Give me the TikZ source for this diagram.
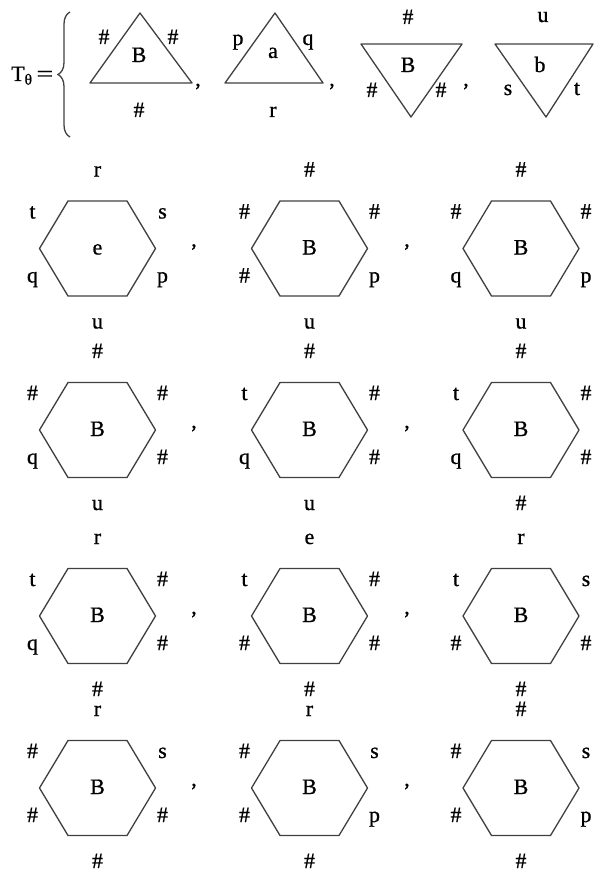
\documentclass[tikz,border=0pt]{standalone}
\usepackage{fontspec}
\usepackage{graphicx}
\setmainfont{Liberation Serif}[FakeBold=0.8]
\usetikzlibrary{decorations.pathreplacing}
\tikzstyle{edge} = [line width=1.3pt, draw=black!75, line join=round]
\tikzstyle{lab} = [inner sep=0pt, anchor=base, font=\fontsize{22}{26}\selectfont]
\tikzstyle{bracket} = [line width=1.3pt, draw=black!75, decorate,
decoration={brace, amplitude=12pt}]

% one hexagon: name, centre, top, upper left, upper right, lower left, lower right, bottom, inside
\newcommand{\hexcell}[9]{%
  \begin{scope}[shift={(#2)}]
    \draw [edge] (-29.5,-47.5) -- (29.5,-47.5) -- (58,0) -- (29.5,47.5)
    -- (-29.5,47.5) -- (-58,0) -- cycle;
    \node (#1) [lab] at (0,6) {#9};
    \node (#1n) [lab] at (0,-72) {#3};
    \node (#1nw) [lab] at (-65,-30) {#4};
    \node (#1ne) [lab] at (65,-30) {#5};
    \node (#1sw) [lab] at (-65,34) {#6};
    \node (#1se) [lab] at (65,34) {#7};
    \node (#1s) [lab] at (0,80) {#8};
  \end{scope}}

\begin{document}
\begin{tikzpicture}[x=1pt, y=-1pt]
              \useasboundingbox (0,0) rectangle (594,872);
              \node (teq) [lab, anchor=base west] at (11,81) {T\textsubscript{θ}\hspace{4pt}\scalebox{1.35}[1]{=}};
              \draw [bracket] (70,137) -- (70,12);

              \draw [edge] (140,13) -- (192,83) -- (90,83) -- cycle;
              \node (tri1) [lab] at (139,62) {B};
              \node (tri1l) [lab] at (104,44) {\#};
              \node (tri1r) [lab] at (173,44) {\#};
              \node (tri1b) [lab] at (139,117) {\#};
              \node (cm1) [lab] at (198,86) {,};

              \draw [edge] (275,13) -- (323,83) -- (225,83) -- cycle;
              \node (tri2) [lab] at (273,58) {a};
              \node (tri2l) [lab] at (238,45) {p};
              \node (tri2r) [lab] at (308,45) {q};
              \node (tri2b) [lab] at (273,117) {r};
              \node (cm2) [lab] at (332,86) {,};

              \draw [edge] (361,44) -- (462,44) -- (411,117) -- cycle;
              \node (tri3) [lab] at (408,72) {B};
              \node (tri3t) [lab] at (408,24) {\#};
              \node (tri3l) [lab] at (372,97) {\#};
              \node (tri3r) [lab] at (441,97) {\#};
              \node (cm3) [lab] at (466,86) {,};

              \draw [edge] (495,44) -- (593,44) -- (546,117) -- cycle;
              \node (tri4) [lab] at (540,72) {b};
              \node (tri4t) [lab] at (543,22) {u};
              \node (tri4l) [lab] at (508,95) {s};
              \node (tri4r) [lab] at (577,95) {t};

              \hexcell{h11}{97.5,248.5}{r}{t}{s}{q}{p}{u}{e}
              \hexcell{h12}{309.5,248.5}{\#}{\#}{\#}{\#}{p}{u}{B}
              \hexcell{h13}{521,248.5}{\#}{\#}{\#}{q}{p}{u}{B}
              \hexcell{h21}{97.5,430}{\#}{\#}{\#}{q}{\#}{u}{B}
              \hexcell{h22}{309.5,430}{\#}{t}{\#}{q}{\#}{u}{B}
              \hexcell{h23}{521,430}{\#}{t}{\#}{q}{\#}{\#}{B}
              \hexcell{h31}{97.5,616}{r}{t}{\#}{q}{\#}{\#}{B}
              \hexcell{h32}{309.5,616}{e}{t}{\#}{\#}{\#}{\#}{B}
              \hexcell{h33}{521,616}{r}{t}{s}{\#}{\#}{\#}{B}
              \hexcell{h41}{97.5,788}{r}{\#}{s}{\#}{\#}{\#}{B}
              \hexcell{h42}{309.5,788}{r}{\#}{s}{\#}{p}{\#}{B}
              \hexcell{h43}{521,788}{\#}{\#}{s}{\#}{p}{\#}{B}

              \node (cm11) [lab] at (194,246.5) {,};
              \node (cm12) [lab] at (407,246.5) {,};
              \node (cm21) [lab] at (194,428) {,};
              \node (cm22) [lab] at (407,428) {,};
              \node (cm31) [lab] at (194,614) {,};
              \node (cm32) [lab] at (407,614) {,};
              \node (cm41) [lab] at (194,786) {,};
              \node (cm42) [lab] at (407,786) {,};
            \end{tikzpicture}
\end{document}
